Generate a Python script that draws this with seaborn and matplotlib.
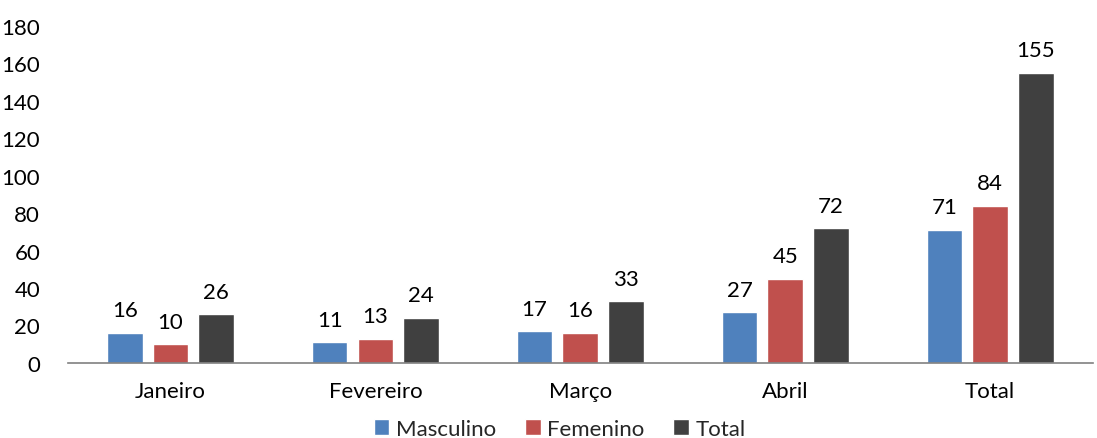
import matplotlib
matplotlib.use("Agg")
import matplotlib.pyplot as plt
import seaborn as sns
import pandas as pd

sns.set_theme(style="white")
plt.rcParams['font.family'] = ['Lato', 'DejaVu Sans']

meses = ["Janeiro", "Fevereiro", "Março", "Abril", "Total"]
masculino = [16, 11, 17, 27, 71]
feminino = [10, 13, 16, 45, 84]
total = [26, 24, 33, 72, 155]
series = ["Masculino", "Femenino", "Total"]
cores = ["#4F81BD", "#C0504D", "#404040"]

df = pd.DataFrame({
    "mes": meses * 3,
    "serie": [series[0]] * 5 + [series[1]] * 5 + [series[2]] * 5,
    "valor": masculino + feminino + total,
})

fig = plt.figure(figsize=(10.97, 4.39), dpi=100)
ax = fig.add_axes([0.062, 0.171, 0.934, 0.768])

sns.barplot(data=df, x="mes", y="valor", hue="serie", palette=cores,
            width=0.67, gap=0.22, saturation=1, ax=ax, legend=True)

for c in ax.containers:
    ax.bar_label(c, padding=9, fontsize=16, color="black")

ax.set_ylim(0, 180)
ax.set_yticks(range(0, 181, 20))
ax.set_xlim(-0.5, 4.5)
ax.set_xlabel("")
ax.set_ylabel("")
ax.tick_params(axis="both", labelsize=16, length=0, colors="black")
ax.tick_params(axis="x", pad=13)
ax.tick_params(axis="y", pad=20)
for s in ["top", "right", "left"]:
    ax.spines[s].set_visible(False)
ax.spines["bottom"].set_color("#808080")
ax.spines["bottom"].set_linewidth(1.2)

ax.legend(loc="center", bbox_to_anchor=(0.48, -0.196), ncol=3, frameon=False,
          fontsize=16, handlelength=0.7, handleheight=0.7, handletextpad=0.3,
          columnspacing=1.3, borderpad=0)

fig.savefig("out.png", dpi=100)
